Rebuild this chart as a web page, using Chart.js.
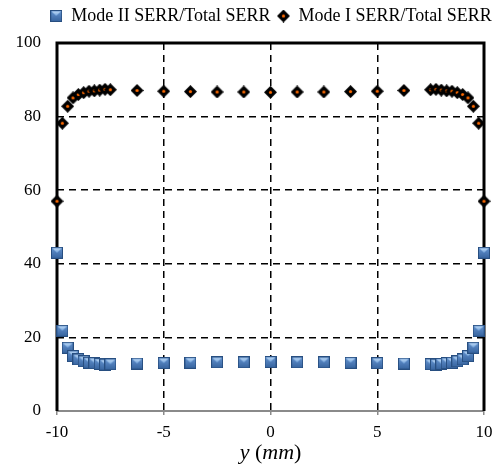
<!DOCTYPE html>
<html><head><meta charset="utf-8">
<script src="https://cdn.jsdelivr.net/npm/chart.js@4.4.0/dist/chart.umd.min.js"></script>
<style>html,body{margin:0;padding:0;background:#fff;} canvas{display:block;}</style>
</head><body>
<canvas id="c" width="500" height="474"></canvas>
<script>
// ---- data ----
const positions = [-10,-9.75,-9.5,-9.25,-9,-8.75,-8.5,-8.25,-8,-7.75,-7.5,-6.25,-5,-3.75,-2.5,-1.25,0,1.25,2.5,3.75,5,6.25,7.5,7.75,8,8.25,8.5,8.75,9,9.25,9.5,9.75,10];
const modeII = [43.0,21.8,17.2,14.9,14.0,13.5,13.1,13.0,12.8,12.6,12.7,12.9,13.0,13.1,13.2,13.2,13.3,13.2,13.2,13.1,13.0,12.9,12.7,12.6,12.8,13.0,13.1,13.5,14.0,14.9,17.2,21.8,43.0];
const modeI = [57.0,78.2,82.8,85.1,86.0,86.5,86.9,87.0,87.2,87.4,87.3,87.1,86.9,86.8,86.7,86.7,86.6,86.7,86.7,86.8,86.9,87.1,87.3,87.4,87.2,87.0,86.9,86.5,86.0,85.1,82.8,78.2,57.0];
const xTicks = [-10,-5,0,5,10];
const yTicks = [0,20,40,60,80,100];
const seriesLabels = ['Mode II SERR/Total SERR','Mode I SERR/Total SERR'];
const axisTitleParts = [['y',true],[' (',false],['mm',true],[')',false]];

const FONT = "'Liberation Serif','Times New Roman',serif";

// ---- marker images ----
function squareMarker(){
  const s=12, c=document.createElement('canvas'); c.width=s; c.height=s;
  const g=c.getContext('2d');
  const gr=g.createLinearGradient(0,0,0,s); gr.addColorStop(0,'#6796D2'); gr.addColorStop(1,'#35629D');
  g.fillStyle=gr; g.fillRect(0,0,s,s);
  g.beginPath(); g.moveTo(1.5,1.5); g.lineTo(s-1.5,1.5); g.lineTo(s/2,s/2); g.closePath();
  const gr2=g.createLinearGradient(0,1,0,s/2); gr2.addColorStop(0,'#C4DDF6'); gr2.addColorStop(1,'#6FA2DC');
  g.fillStyle=gr2; g.fill();
  g.strokeStyle='#274E80'; g.lineWidth=1; g.strokeRect(0.5,0.5,s-1,s-1);
  return c;
}
function diamondMarker(){
  const s=13, c=document.createElement('canvas'); c.width=s; c.height=s;
  const g=c.getContext('2d'); const h=s/2;
  g.beginPath(); g.moveTo(h,0); g.lineTo(s,h); g.lineTo(h,s); g.lineTo(0,h); g.closePath();
  g.fillStyle='#000'; g.fill();
  g.beginPath(); g.arc(h,h,1.6,0,Math.PI*2); g.fillStyle='#FF6A00'; g.fill();
  return c;
}
const sq = squareMarker(), dm = diamondMarker();

const framePlugin = {
  id:'frame',
  beforeLayout(chart){
    const lg = chart.legend;
    if (lg && !lg._fitPatched){
      const f = lg.fit;
      lg.fit = function(){ f.call(this); this.height = 43; };
      lg._fitPatched = true;
    }
  },
  afterLayout(chart){
    const lg = chart.legend;
    if (lg){ lg.left += 29; lg.right += 29; }
  },
  beforeDatasetsDraw(chart){
    const {ctx, chartArea:{left,right,top,bottom}} = chart;
    ctx.save();
    ctx.strokeStyle='#8a8a8a'; ctx.lineWidth=2;
    ctx.beginPath(); ctx.moveTo(left,bottom); ctx.lineTo(right,bottom); ctx.stroke();
    ctx.strokeStyle='#000'; ctx.lineWidth=3;
    ctx.beginPath(); ctx.moveTo(left,bottom); ctx.lineTo(left,top); ctx.lineTo(right,top); ctx.lineTo(right,bottom); ctx.stroke();
    ctx.restore();
  },
  afterDraw(chart){
    const {ctx, chartArea:{left,right}} = chart;
    ctx.save();
    ctx.fillStyle='#000'; ctx.textBaseline='middle';
    const size=22;
    let total=0; const ws=[];
    axisTitleParts.forEach(([t,it])=>{ ctx.font=(it?'italic ':'')+size+'px '+FONT; const w=ctx.measureText(t).width; ws.push(w); total+=w; });
    let x=(left+right)/2-total/2;
    axisTitleParts.forEach(([t,it],i)=>{ ctx.font=(it?'italic ':'')+size+'px '+FONT; ctx.fillText(t,x,453); x+=ws[i]; });
    ctx.restore();
  }
};

const toPts = arr => positions.map((x,i)=>({x, y:arr[i]}));

new Chart(document.getElementById('c'), {
  type:'scatter',
  data:{ datasets:[
    { label:seriesLabels[0], data:toPts(modeII), pointStyle:sq, pointRadius:6, clip:false },
    { label:seriesLabels[1], data:toPts(modeI), pointStyle:dm, pointRadius:6, clip:false }
  ]},
  options:{
    responsive:false, animation:false,
    layout:{ padding:{ left:0, right:16, top:0, bottom:0 } },
    plugins:{
      legend:{ position:'top', align:'center',
        labels:{ usePointStyle:true, boxWidth:12, boxHeight:12, padding:7, color:'#000', font:{family:FONT, size:18} } },
      tooltip:{ enabled:false }
    },
    scales:{
      x:{ type:'linear', min:-10, max:10,
        afterBuildTicks(s){ s.ticks = xTicks.map(v=>({value:v})); },
        afterFit(s){ s.height = 63; },
        ticks:{ color:'#000', font:{family:FONT, size:17}, padding:7 },
        grid:{ color:c=> (c.tick && Math.abs(c.tick.value)<10) ? '#000' : 'rgba(0,0,0,0)', lineWidth:1.5,
               drawTicks:true, tickLength:4, tickColor:'#8a8a8a', tickWidth:1.5 },
        border:{ display:false, dash:[7,5] }
      },
      y:{ type:'linear', min:0, max:100,
        afterBuildTicks(s){ s.ticks = yTicks.map(v=>({value:v})); },
        afterFit(s){ s.width = 57; },
        ticks:{ color:'#000', font:{family:FONT, size:17}, padding:16 },
        grid:{ color:c=> (c.tick && c.tick.value>0 && c.tick.value<100) ? '#000' : 'rgba(0,0,0,0)', lineWidth:1.5, drawTicks:false },
        border:{ display:false, dash:[7,5] }
      }
    }
  },
  plugins:[framePlugin]
});
</script>
</body></html>
